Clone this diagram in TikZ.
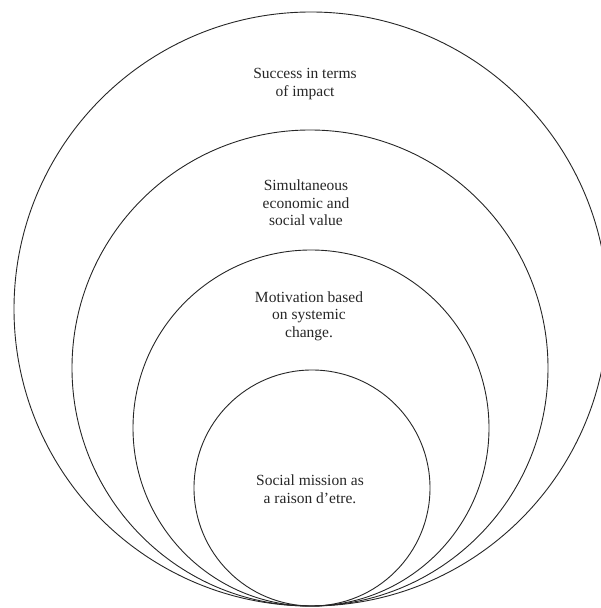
\documentclass[tikz,border=0pt]{standalone}
\usepackage{fontspec}
\setmainfont{Liberation Serif}
\begin{document}
\begin{tikzpicture}[x=1pt,y=1pt,
  ring/.style={draw=black!85,line width=0.9pt},
  label/.style={align=center,font=\fontsize{15.5}{17.5}\selectfont,text=black!85,inner sep=0pt}]
\useasboundingbox (0,0) rectangle (601,608);
\begin{scope}
\clip (0,0) rectangle (601,608);
% nested circles, all touching at the bottom point
\draw[ring] (311,299) circle (297);
\draw[ring] (310,240) circle (238);
\draw[ring] (311,180) circle (178);
\draw[ring] (312,120) circle (118);
\end{scope}
\node[label] (impact) at (305,524) {Success in terms\\of impact};
\node[label] (value) at (306,405) {Simultaneous\\economic and\\social value};
\node[label] (change) at (309,292) {Motivation based\\on systemic\\change.};
\node[label] (mission) at (310,119) {Social mission as\\a raison d'etre.};
\end{tikzpicture}
\end{document}
